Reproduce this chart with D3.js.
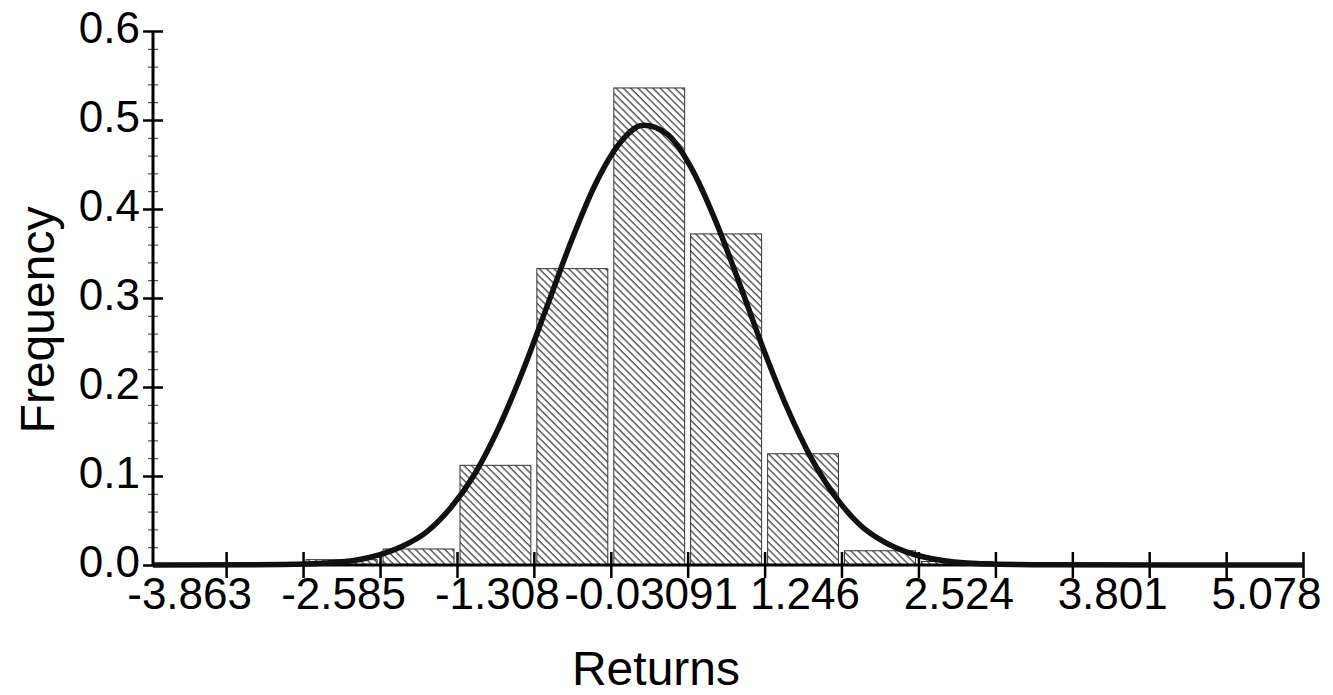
<!DOCTYPE html>
<html>
<head>
<meta charset="utf-8">
<script src="https://cdn.jsdelivr.net/npm/d3@7"></script>
<style>
  body { margin: 0; background: #fff; }
  svg { display: block; font-family: "Liberation Sans", Arial, sans-serif; }
</style>
</head>
<body>
<svg id="chart"></svg>
<script>
// histogram bins (density)
const binEdges = [-3.224, -2.585, -1.946, -1.308, -0.669, -0.031, 0.608, 1.246, 1.885, 2.524];
const binFreq = [0.006, 0.018, 0.112, 0.333, 0.536, 0.372, 0.125, 0.016, 0.004];

// labelled x ticks and the unlabelled ones between them
const xTicks = [-3.863, -2.585, -1.308, -0.03091, 1.246, 2.524, 3.801, 5.078];
const xTickLabels = ['-3.863', '-2.585', '-1.308', '-0.03091', '1.246', '2.524', '3.801', '5.078'];
const xMinorTicks = [-3.224, -1.946, -0.669, 0.608, 1.885, 3.163, 4.440];

const yTicks = [0, 0.1, 0.2, 0.3, 0.4, 0.5, 0.6];
const yMinorTicks = [0.02, 0.04, 0.06, 0.08, 0.12, 0.14, 0.16, 0.18, 0.22, 0.24, 0.26, 0.28,
  0.32, 0.34, 0.36, 0.38, 0.42, 0.44, 0.46, 0.48, 0.52, 0.54, 0.56, 0.58];

// fitted curve, points
const curveX = [-4.47, -3.4, -3.0, -2.8, -2.6, -2.4, -2.2, -2.0, -1.8, -1.6, -1.4, -1.2, -1.0, -0.8,
  -0.6, -0.4, -0.2, 0.0, 0.2, 0.4, 0.6, 0.8, 1.0, 1.2, 1.4, 1.6, 1.8, 2.0, 2.4, 3.0, 4.0, 5.078];
const curveY = [0, 0.0005, 0.0024, 0.005, 0.011, 0.021, 0.037, 0.064, 0.102, 0.154, 0.218, 0.290, 0.363, 0.427,
  0.473, 0.494, 0.484, 0.446, 0.387, 0.316, 0.242, 0.175, 0.119, 0.076, 0.045, 0.026, 0.014, 0.007, 0.0015, 0.0002, 0, 0];

class Histogram {

  constructor(_config) {
    this.config = {
      parentElement: _config.parentElement,
      containerWidth: _config.containerWidth || 1333,
      containerHeight: _config.containerHeight || 695,
      margin: _config.margin || { top: 31, right: 30, bottom: 130, left: 153 }
    }
    this.initVis();
  }

  initVis() {
    let vis = this;

    vis.width = 1303 - vis.config.margin.left;
    vis.height = vis.config.containerHeight - vis.config.margin.top - vis.config.margin.bottom;

    vis.xScale = d3.scaleLinear()
        .domain([-4.47, 5.078])
        .range([0, vis.width]);

    vis.yScale = d3.scaleLinear()
        .domain([0, 0.6])
        .range([vis.height, 0]);

    vis.svg = d3.select(vis.config.parentElement)
        .attr('width', vis.config.containerWidth)
        .attr('height', vis.config.containerHeight);

    // diagonal hatching used by the bars
    vis.svg.append('defs').append('pattern')
        .attr('id', 'hatch')
        .attr('patternUnits', 'userSpaceOnUse')
        .attr('width', 5.2)
        .attr('height', 5.2)
        .attr('patternTransform', 'rotate(-45)')
      .append('line')
        .attr('x1', 1).attr('x2', 1)
        .attr('y1', 0).attr('y2', 5.2)
        .attr('stroke', '#222')
        .attr('stroke-width', 1.1);

    vis.chart = vis.svg.append('g')
        .attr('transform', `translate(${vis.config.margin.left},${vis.config.margin.top})`);

    vis.svg.append('text')
        .attr('transform', 'translate(54,320) rotate(-90)')
        .attr('text-anchor', 'middle')
        .style('font-size', '48px')
        .text('Frequency');

    vis.svg.append('text')
        .attr('x', 656)
        .attr('y', 685)
        .attr('text-anchor', 'middle')
        .style('font-size', '48px')
        .text('Returns');

    vis.renderVis();
  }

  renderVis() {
    let vis = this;
    const bins = binFreq.map((f, i) => ({ x0: binEdges[i], x1: binEdges[i + 1], f: f }));

    vis.chart.selectAll('.bar')
        .data(bins)
      .join('rect')
        .attr('class', 'bar')
        .attr('x', d => vis.xScale(d.x0) + 3)
        .attr('width', d => vis.xScale(d.x1) - vis.xScale(d.x0) - 6)
        .attr('y', d => vis.yScale(d.f))
        .attr('height', d => vis.yScale(0) - vis.yScale(d.f))
        .attr('fill', 'url(#hatch)')
        .attr('stroke', '#333')
        .attr('stroke-width', 1);

    // y axis: minor ticks first, then the labelled ones
    vis.chart.append('g')
        .call(d3.axisLeft(vis.yScale).tickValues(yMinorTicks).tickSize(5).tickFormat(''))
        .call(g => g.select('.domain').remove())
        .call(g => g.selectAll('.tick line').attr('x1', 5).attr('stroke', '#333').attr('stroke-width', 1));

    vis.yAxisG = vis.chart.append('g')
        .call(d3.axisLeft(vis.yScale).tickValues(yTicks).tickSize(10).tickFormat(d3.format('.1f')))
        .call(g => g.select('.domain').attr('stroke-width', 3).attr('d', `M0,${vis.height}V0`))
        .call(g => g.selectAll('.tick line').attr('x1', 10).attr('stroke-width', 2.5))
        .call(g => g.selectAll('.tick text')
            .attr('x', -13)
            .attr('dy', '0.25em')
            .style('font-size', '44px')
            .attr('fill', '#000'));

    // x axis
    vis.chart.append('g')
        .attr('transform', `translate(0,${vis.height})`)
        .call(d3.axisBottom(vis.xScale).tickValues(xMinorTicks).tickSize(13).tickFormat(''))
        .call(g => g.select('.domain').remove())
        .call(g => g.selectAll('.tick line').attr('y1', -13).attr('stroke-width', 2.5));

    vis.xAxisG = vis.chart.append('g')
        .attr('transform', `translate(0,${vis.height})`)
        .call(d3.axisBottom(vis.xScale).tickValues(xTicks).tickSize(13)
            .tickFormat((d, i) => xTickLabels[i]))
        .call(g => g.select('.domain').attr('stroke-width', 3).attr('d', `M0,0H${vis.width}`))
        .call(g => g.selectAll('.tick line').attr('y1', -13).attr('stroke-width', 2.5))
        .call(g => g.selectAll('.tick text')
            .attr('y', 13)
            .attr('dx', -37)
            .attr('dy', '0.71em')
            .style('font-size', '44px')
            .attr('fill', '#000'));

    // fitted curve on top
    const line = d3.line()
        .x((d, i) => vis.xScale(curveX[i]))
        .y(d => vis.yScale(d))
        .curve(d3.curveMonotoneX);

    vis.chart.append('path')
        .datum(curveY)
        .attr('d', line)
        .attr('fill', 'none')
        .attr('stroke', '#111')
        .attr('stroke-width', 5.5);
  }
}

new Histogram({ parentElement: '#chart' });
</script>
</body>
</html>
